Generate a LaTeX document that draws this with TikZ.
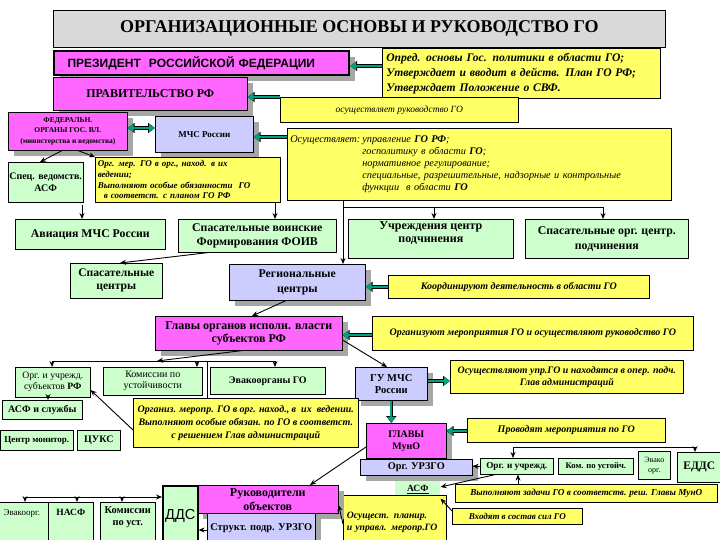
\documentclass[tikz,border=0pt]{standalone}
\usepackage{fontspec}
\setmainfont{Liberation Serif}
\setsansfont{Liberation Sans}
\usetikzlibrary{arrows.meta,shadows}
\definecolor{pinkc}{HTML}{FF66FF}
\definecolor{lavc}{HTML}{CCCCFF}
\definecolor{grnc}{HTML}{CCFFCC}
\definecolor{yelc}{HTML}{FFFF66}
\definecolor{greyc}{HTML}{D9D9D9}
\definecolor{tealc}{HTML}{00A27E}
\definecolor{shadc}{HTML}{A6A6A6}
\newcommand{\fs}[2]{\fontsize{#1}{#2}\selectfont}
\begin{document}
\begin{tikzpicture}[x=1pt,y=-1pt,
  box/.style={draw=black, line width=0.6pt, anchor=north west, inner sep=1pt, align=center, font=\bfseries\fs{10}{12}},
  pbox/.style={box, fill=pinkc},
  lbox/.style={box, fill=lavc},
  gbox/.style={box, fill=grnc},
  ybox/.style={box, fill=yelc, font=\itshape\fs{9}{11}},
  shad/.style={drop shadow={shadow xshift=6pt, shadow yshift=-6pt, fill=shadc, opacity=1}},
  ar/.style={draw=black, line width=0.9pt, -{Stealth[length=6pt,width=5pt]}},
  ln/.style={draw=black, line width=0.9pt},
  tar/.style={draw=tealc, line width=2.2pt, -{Triangle[length=6pt,width=8pt]},
    preaction={draw=black, line width=3.4pt, -{Triangle[length=7pt,width=10pt]}}},
  tdar/.style={draw=tealc, line width=2.2pt, {Triangle[length=6pt,width=8pt]}-{Triangle[length=6pt,width=8pt]},
    preaction={draw=black, line width=3.4pt, {Triangle[length=7pt,width=10pt]}-{Triangle[length=7pt,width=10pt]}}}
]
\clip (0,0) rectangle (720,540);
\fill[white] (0,0) rectangle (720,540);

% ---- top ----
\node[box, fill=greyc, minimum width=612pt, minimum height=37pt, font=\bfseries\fs{18}{20}] (title) at (53,10) {ОРГАНИЗАЦИОННЫЕ ОСНОВЫ И РУКОВОДСТВО ГО};
\node[box, shad, fill=pinkc, line width=2.2pt, minimum width=295pt, minimum height=24pt, text width=280pt, align=left, font=\sffamily\bfseries\fs{12}{14}] (pres) at (53,50) {\hspace*{6pt}ПРЕЗИДЕНТ\ \ РОССИЙСКОЙ ФЕДЕРАЦИИ};
\node[ybox, minimum width=278pt, minimum height=50pt, text width=270pt, align=left, font=\bfseries\itshape\fs{11.6}{15}] (y1) at (382,48) {Опред. основы Гос. политики в области ГО;\\Утверждает и вводит в действ. План ГО РФ;\\Утверждает Положение о СВФ.};
\node[pbox, shad, minimum width=194pt, minimum height=33pt, font=\bfseries\fs{12}{13}] (gov) at (53,77) {ПРАВИТЕЛЬСТВО РФ};
\node[ybox, minimum width=238pt, minimum height=25pt, font=\itshape\fs{9.5}{10}] (y2) at (280,97) {осуществляет руководство ГО};
\node[pbox, shad, minimum width=119pt, minimum height=38pt, font=\bfseries\fs{7.5}{10.5}] (fed) at (8,112) {ФЕДЕРАЛЬН.\\ОРГАНЫ ГОС. ВЛ.\\(министерства и ведомства)};
\node[lbox, shad, minimum width=98pt, minimum height=36pt, font=\bfseries\fs{9}{11}] (mchs) at (155,116) {МЧС России};
\node[ybox, minimum width=384pt, minimum height=72pt, text width=378pt, align=left, font=\itshape\fs{10.3}{12}] (y3) at (287,128) {\begin{tabular}{@{}l@{\hspace{2pt}}l@{}}Осуществляет: & управление \textbf{ГО РФ};\\ & госполитику в области \textbf{ГО};\\ & нормативное регулирование;\\ & специальные, разрешительные, надзорные и контрольные\\ & функции\ \ в области \textbf{ГО}\end{tabular}};
\node[gbox, minimum width=72pt, minimum height=40pt, font=\bfseries\fs{10}{12}] (spec) at (8,162) {Спец. ведомств.\\АСФ};
\node[ybox, minimum width=185pt, minimum height=45pt, text width=180pt, align=left, font=\bfseries\itshape\fs{9}{10.6}] (y4) at (95,157) {Орг. мер. ГО в орг., наход. в их\\ведении;\\Выполняют особые обязанности\ \ ГО\\\ \ в соответст. с планом ГО РФ};

% ---- row 3 ----
\node[gbox, minimum width=150pt, minimum height=30pt, font=\bfseries\fs{11.8}{13}] (avia) at (15,219) {Авиация МЧС России};
\node[gbox, minimum width=158pt, minimum height=33pt, font=\bfseries\fs{11.8}{14}] (spv) at (178,219) {Спасательные воинские\\Формирования ФОИВ};
\node[gbox, minimum width=165pt, minimum height=39pt, font=\bfseries\fs{12}{13}] (uchr) at (348,219) {Учреждения центр\\подчинения\\[1pt]};
\node[gbox, minimum width=163pt, minimum height=39pt, font=\bfseries\fs{11.8}{15}] (spo) at (525,219) {Спасательные орг. центр.\\подчинения};
\node[gbox, minimum width=92pt, minimum height=35pt, font=\bfseries\fs{11.6}{13}] (spc) at (70,263) {Спасательные\\центры};
\node[lbox, shad, minimum width=136pt, minimum height=36pt, font=\bfseries\fs{11.8}{15}] (reg) at (229,264) {Региональные\\центры};
\node[ybox, minimum width=261pt, minimum height=23pt, font=\bfseries\itshape\fs{10}{11}] (y5) at (388,275) {Координируют деятельность в области ГО};
\node[pbox, shad, minimum width=187pt, minimum height=34pt, font=\bfseries\fs{12}{13}] (glo) at (155,316) {Главы органов исполн. власти\\субъектов РФ};
\node[ybox, minimum width=321pt, minimum height=34pt, font=\bfseries\itshape\fs{10}{11}] (y6) at (372,316) {Организуют мероприятия ГО и осуществляют руководство ГО};

% ---- subjects level ----
\node[gbox, minimum width=75pt, minimum height=30pt, font=\fs{9.7}{11}] (ous) at (15,367) {Орг. и учрежд.\\субъектов \textbf{РФ}};
\node[gbox, minimum width=99pt, minimum height=28pt, font=\fs{10}{11}] (kom) at (103,367) {Комиссии по\\устойчивости};
\node[gbox, minimum width=115pt, minimum height=27pt, font=\bfseries\fs{10}{11}] (evk) at (210,367) {Эвакоорганы ГО};
\node[lbox, shad, minimum width=72pt, minimum height=33pt, font=\bfseries\fs{10.5}{12}] (gum) at (355,367) {ГУ МЧС\\России};
\node[ybox, minimum width=233pt, minimum height=33pt, font=\bfseries\itshape\fs{9.9}{12}] (y8) at (450,360) {Осуществляют упр.ГО и находятся в опер. подч.\\Глав администраций};
\node[gbox, minimum width=80pt, minimum height=19pt, font=\bfseries\fs{10}{10}] (asfs) at (2,400) {АСФ и службы};
\node[ybox, minimum width=225pt, minimum height=49pt, inner sep=0pt, font=\bfseries\itshape\fs{10}{13}] (y7) at (133,398) {Организ. меропр. ГО в орг. наход., в\ \ их\ \ ведении.\\Выполняют особые обязан. по ГО в соответст.\\с решением Глав администраций};
\node[gbox, minimum width=73pt, minimum height=20pt, inner sep=0pt, font=\bfseries\fs{9}{10}] (cm) at (0,430) {Центр монитор.};
\node[gbox, minimum width=43pt, minimum height=20pt, font=\bfseries\fs{10}{10}] (cuks) at (77,430) {ЦУКС};

% ---- municipal level ----
\node[pbox, shad, minimum width=80pt, minimum height=35pt, font=\bfseries\fs{10}{12}] (gmo) at (366,423) {ГЛАВЫ\\МунО};
\node[ybox, minimum width=198pt, minimum height=24pt, font=\bfseries\itshape\fs{10}{10}] (y9) at (467,418) {Проводят мероприятия по ГО};
\node[lbox, shad, minimum width=112pt, minimum height=16pt, font=\bfseries\fs{10.3}{10}] (ourz) at (360,459) {Орг. УРЗГО};
\node[gbox, minimum width=73pt, minimum height=16pt, font=\bfseries\fs{9.2}{9}] (ou2) at (480,458) {Орг. и учрежд.};
\node[gbox, minimum width=75pt, minimum height=16pt, font=\bfseries\fs{8.6}{9}] (ku2) at (558,458) {Ком. по устойч.};
\node[gbox, minimum width=32pt, minimum height=28pt, font=\fs{8}{10}] (ev2) at (638,451) {Эвако\\орг.};
\node[gbox, minimum width=44pt, minimum height=30pt, font=\bfseries\fs{11.5}{12}] (edds) at (677,452) {ЕДДС};
\node[gbox, draw=none, minimum width=45pt, minimum height=17pt, font=\bfseries\fs{9.5}{10}] (asf) at (395,481) {\underline{АСФ}};
\node[ybox, minimum width=262pt, minimum height=18pt, font=\bfseries\itshape\fs{9.2}{10}] (y10) at (455,484) {Выполняют задачи ГО в соответств. реш. Главы МунО};
\node[ybox, minimum width=130pt, minimum height=16pt, font=\bfseries\itshape\fs{9}{10}] (y11) at (452,508) {Входят в состав сил ГО};
\node[ybox, minimum width=103pt, minimum height=55pt, text width=96pt, align=left, font=\bfseries\itshape\fs{9.7}{12}] (y12) at (343,495) {Осущест. планир.\\и управл. меропр.ГО};
\node[pbox, shad, minimum width=141pt, minimum height=28pt, font=\bfseries\fs{12}{14}] (ruk) at (197,485) {Руководители\\объектов};
\node[gbox, line width=1.6pt, minimum width=35pt, minimum height=60pt, font=\sffamily\fs{14.5}{15}] (dds) at (162,485) {ДДС};
\node[lbox, shad, minimum width=108pt, minimum height=30pt, font=\bfseries\fs{10.4}{10}] (str) at (207,513) {Структ. подр. УРЗГО};
\node[gbox, minimum width=53pt, minimum height=40pt, font=\fs{9}{10}] (evo) at (-5,502) {Эвакоорг.\\[10pt]};
\node[gbox, minimum width=45pt, minimum height=40pt, font=\bfseries\fs{9.5}{10}] (nasf) at (48,502) {НАСФ\\[10pt]};
\node[gbox, minimum width=55pt, minimum height=40pt, font=\bfseries\fs{10.4}{12}] (kpu) at (100,502) {Комиссии\\по уст.\\[1pt]};

% ---- teal arrows ----
\draw[tar] (y1.west |- 0,66) -- (pres.east |- 0,66);
\draw[tar] (y2.north west) -- (gov.east |- y2.north west);
\draw[tdar] (fed.east |- 0,128) -- (mchs.west |- 0,128);
\draw[tar] (y3.west |- 0,137) -- (mchs.east |- 0,137);
\draw[tar] (y5.west) -- (reg.east |- y5.west);
\draw[tar] (y6.west |- 0,335) -- (glo.east |- 0,335);
\draw[tar] (gum.east |- 0,381) -- (y8.west |- 0,381);
\draw[tar] (gum.south) -- (gmo.north -| gum.south);
\draw[tar] (y9.west |- 0,431) -- (gmo.east |- 0,431);

% ---- black connectors ----
\draw[ar] (fed.south -| 62,0) -- (spec.north -| 40,0);
\draw[ar] (fed.south -| 78,0) -- (y4.north west);
\coordinate (pa) at (82,205); \coordinate (pb) at (275,203);
\draw[ar] (pa) -- (avia.north -| pa);
\draw[ar] (pb) -- (spv.north -| pb);
\coordinate (ha) at (343,207); \coordinate (hb) at (434,207); \coordinate (hc) at (603,207);
\draw[ln] (ha) -- (hc);
\draw[ar] (y3.south -| ha) -- (reg.north -| ha);
\draw[ar] (hb) -- (uchr.north -| hb);
\draw[ar] (hc) -- (spo.north -| hc);
\draw[ar] (spv.south -| 208,0) -- (spc.north -| 120,0);
\draw[ar] (reg.south -| 286,0) -- (glo.north -| 252,0);
\coordinate (sa) at (52,361); \coordinate (sb) at (157,361); \coordinate (sc) at (197,361); \coordinate (sd) at (207,361); \coordinate (se) at (275,361);
\draw[ar] (glo.south -| 242,0) -- (sb);
\draw[ln] (sa) -- (se);
\draw[ln] (sd) -- (y7.north -| sd);
\draw[ar] (sa) -- (ous.north -| sa);
\draw[ar] (sc) -- (kom.north -| sc);
\draw[ar] (se) -- (evk.north -| se);
\draw[ar] (glo.east |- 0,340) -- (gum.north west -| 387,0);
\draw[ar] (ous.south -| 48,0) -- (asfs.north -| 48,0);
\draw[ar] (y7.west |- 0,430) -- (ous.east |- 0,390);
\coordinate (ma) at (513,447); \coordinate (mb) at (695,447);
\draw[ln] (ma) -- (mb);
\draw[ar] (ma) -- (ou2.north -| ma);
\draw[ar] (mb) -- (edds.north -| mb);
\draw[ar] (ou2.west) -- (ourz.east |- ou2.west);
\draw[ar] (ou2.south -| 495,0) -- (asf.east |- 0,487);
\draw[ar] (y10.north -| 518,0) -- (ou2.south -| 518,0);
\draw[ar] (y11.west |- 0,511) -- (asf.south east);
\draw[ar] (gmo.west |- 0,447) -- (ruk.north -| 310,0);
\draw[ar] (y12.west |- 0,524) -- (ruk.east |- 0,505);
\coordinate (la) at (25,497); \coordinate (lb) at (77,497); \coordinate (lc) at (122,497);
\draw[ar] (la) -- (dds.west |- la);
\draw[ar] (la) -- (evo.north -| la);
\draw[ar] (lb) -- (nasf.north -| lb);
\draw[ar] (lc) -- (kpu.north -| lc);
\draw[ar] (str.west |- 0,530) -- (dds.east |- 0,530);
\end{tikzpicture}
\end{document}
